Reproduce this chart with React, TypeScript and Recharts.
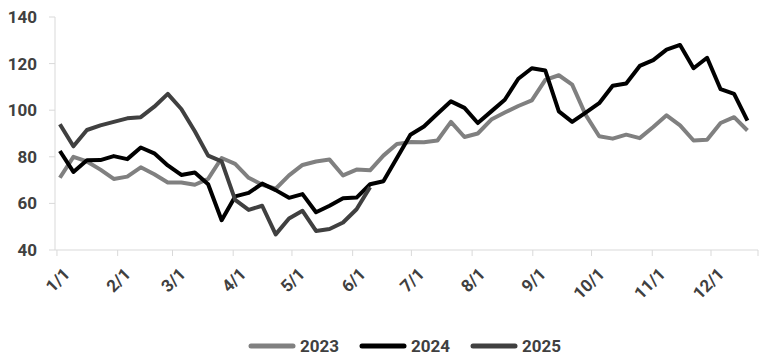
import React from 'react';
import { LineChart, Line, XAxis, YAxis, Legend } from 'recharts';

// day of year of each weekly observation
const weekDay = [
  1.5, 8.4, 15.3, 22.2, 29.0, 35.9, 42.8, 49.7, 56.6, 63.5, 70.4, 77.2, 84.1,
  91.0, 97.9, 104.8, 111.7, 118.5, 125.4, 132.3, 139.2, 146.1, 153.0, 159.9,
  166.7, 173.6, 180.5, 187.4, 194.3, 201.2, 208.1, 214.9, 221.8, 228.7, 235.6,
  242.5, 249.4, 256.3, 263.1, 270.0, 276.9, 283.8, 290.7, 297.6, 304.5, 311.3,
  318.2, 325.1, 332.0, 338.9, 345.8, 352.6,
];

const s2023 = [
  71, 80, 78, 74.5, 70.5, 71.5, 75.5, 72.5, 69, 69, 68, 70.5, 79.5, 77, 71, 68,
  66.3, 72, 76.5, 78, 78.8, 72, 74.5, 74.2, 80.5, 85.5, 86.3, 86.2, 87, 95,
  88.5, 90, 96, 99, 101.8, 104.2, 113, 115, 111, 98, 88.8, 87.8, 89.5, 88, 92.8,
  97.8, 93.5, 87, 87.3, 94.5, 97, 91.3,
];

const s2024 = [
  82.5, 73.5, 78.5, 78.6, 80.3, 79, 84, 81.5, 76.3, 72.2, 73.3, 68.2, 52.8, 63,
  64.5, 68.5, 65.7, 62.4, 64, 56.2, 59, 62.2, 62.5, 68.2, 69.5, 79.5, 89.5, 93,
  98.5, 103.8, 101, 94.5, 99.5, 104.5, 113.5, 118, 117, 99.5, 95, 99, 103,
  110.5, 111.5, 119, 121.5, 126, 128, 118, 122.5, 109, 107, 95.5,
];

const s2025 = [
  94, 84.5, 91.5, 93.5, 95, 96.5, 97, 101.5, 107, 100.5, 91, 80.5, 78, 61.5,
  57.2, 59, 46.7, 53.5, 56.8, 48.2, 49, 51.8, 57.5, 67,
];

const monthTicks = [0, 31, 59, 90, 120, 151, 181, 212, 243, 273, 304, 334, 358];
const monthLabels = ['1/1', '2/1', '3/1', '4/1', '5/1', '6/1', '7/1', '8/1', '9/1', '10/1', '11/1', '12/1', ''];
const yTicks = [40, 60, 80, 100, 120, 140];

const series = [
  { key: 'y2023', name: '2023', color: '#808080' },
  { key: 'y2024', name: '2024', color: '#000000' },
  { key: 'y2025', name: '2025', color: '#404040' },
];

const data = weekDay.map((day, i) => ({
  day,
  y2023: s2023[i],
  y2024: s2024[i],
  y2025: i < s2025.length ? s2025[i] : undefined,
}));

const FONT = 'Roboto, "DejaVu Sans", sans-serif';
const AXIS = '#d9d9d9';
const TEXT = '#404040';

const MonthTick = (props: any) => {
  const { x, y, index } = props;
  const label = monthLabels[index];
  if (!label) return null;
  const tx = x + 5;
  const ty = y + 8;
  return (
    <text
      x={tx}
      y={ty}
      textAnchor="end"
      dominantBaseline="hanging"
      transform={`rotate(-45 ${tx} ${ty})`}
      fontFamily={FONT}
      fontWeight={700}
      fontSize={17}
      fill={TEXT}
    >
      {label}
    </text>
  );
};

const LegendContent = () => (
  <div style={{ display: 'flex', alignItems: 'center', height: 30, paddingLeft: 243 }}>
    {series.map((s) => (
      <div key={s.key} style={{ display: 'flex', alignItems: 'center', marginRight: 20 }}>
        <svg width={48} height={10}>
          <line x1={3} y1={5} x2={45} y2={5} stroke={s.color} strokeWidth={5} strokeLinecap="round" />
        </svg>
        <span style={{ marginLeft: 4, fontFamily: FONT, fontWeight: 700, fontSize: 17, color: TEXT }}>
          {s.name}
        </span>
      </div>
    ))}
  </div>
);

export default function App() {
  return (
    <div style={{ position: 'absolute', left: 0, top: 0, width: 770, height: 361, background: '#fff' }}>
      <LineChart width={770} height={361} data={data} margin={{ top: 17, right: 12, left: 5, bottom: 0 }}>
        <XAxis
          dataKey="day"
          type="number"
          domain={[-1, 358]}
          ticks={monthTicks}
          interval={0}
          height={81}
          tickSize={6}
          stroke={AXIS}
          tick={<MonthTick />}
          allowDataOverflow
        />
        <YAxis
          domain={[40, 140]}
          ticks={yTicks}
          width={50}
          tickSize={6}
          tickMargin={12}
          stroke={AXIS}
          tick={{ fill: TEXT, fontFamily: FONT, fontWeight: 700, fontSize: 17 }}
        />
        <Legend verticalAlign="bottom" height={30} content={<LegendContent />} />
        {series.map((s) => (
          <Line
            key={s.key}
            type="linear"
            dataKey={s.key}
            name={s.name}
            stroke={s.color}
            strokeWidth={4}
            strokeLinejoin="round"
            dot={false}
            activeDot={false}
            isAnimationActive={false}
          />
        ))}
      </LineChart>
    </div>
  );
}
